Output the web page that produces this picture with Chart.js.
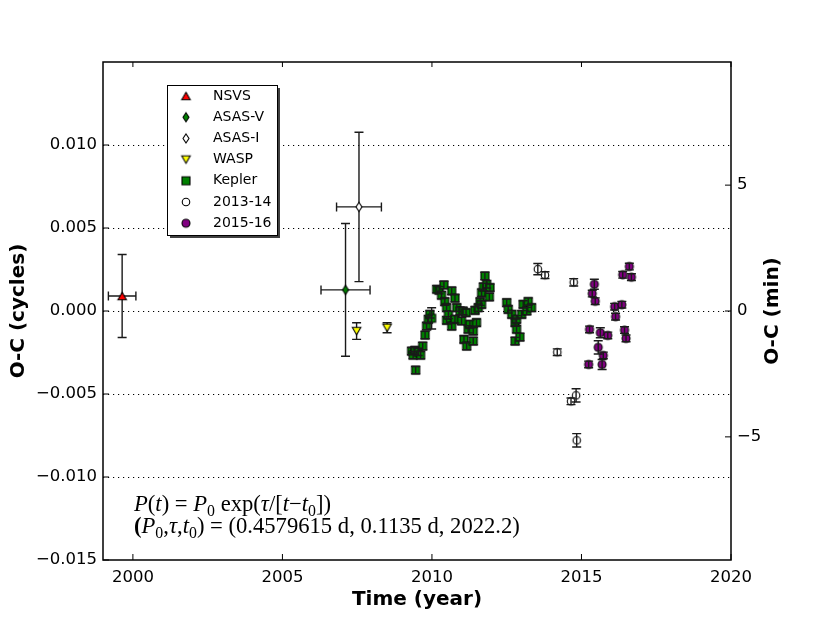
<!DOCTYPE html>
<html>
<head>
<meta charset="utf-8">
<script src="https://cdn.jsdelivr.net/npm/chart.js@4.4.0/dist/chart.umd.min.js"></script>
<style>
  html, body { margin: 0; padding: 0; background: #fff; }
  #wrap { width: 830px; height: 623px; position: relative; }
</style>
</head>
<body>
<div id="wrap"><canvas id="chart"></canvas></div>
<script>
// period P0 = 0.4579615 d, right axis shows O-C in minutes
const P0_MIN = 0.4579615 * 1440;

const xTicks = [2000, 2005, 2010, 2015, 2020];
const yTicks = [-0.015, -0.010, -0.005, 0.000, 0.005, 0.010];
const y2Ticks = [-5, 0, 5];

const nsvsYear = [1999.64];
const nsvsOC = [0.0009];
const nsvsErr = [0.0025];
const nsvsXErr = [0.46];

const asasVYear = [2007.11];
const asasVOC = [0.00127];
const asasVErr = [0.0040];
const asasVXErr = [0.82];

const asasIYear = [2007.56];
const asasIOC = [0.00627];
const asasIErr = [0.0045];
const asasIXErr = [0.75];

const waspYear = [2007.48, 2008.50];
const waspOC = [-0.00121, -0.00101];
const waspErr = [0.0005, 0.0003];

const keplerYear = [2009.32, 2009.37, 2009.43, 2009.455, 2009.54, 2009.62, 2009.69, 2009.77, 2009.82, 2009.88,
  2009.93, 2009.99, 2010.16, 2010.24, 2010.32, 2010.40, 2010.43, 2010.49, 2010.49, 2010.55,
  2010.66, 2010.66, 2010.77, 2010.77, 2010.83, 2010.94, 2010.99, 2011.04, 2011.07, 2011.14,
  2011.16, 2011.21, 2011.27, 2011.38, 2011.38, 2011.44, 2011.49, 2011.55, 2011.61, 2011.66,
  2011.66, 2011.72, 2011.77, 2011.83, 2011.92, 2011.94, 2012.50, 2012.55, 2012.67, 2012.78,
  2012.78, 2012.83, 2012.83, 2012.94, 2013.00, 2013.05, 2013.17, 2013.22, 2013.33];
const keplerOC = [-0.00242, -0.00266, -0.00237, -0.00356, -0.00246, -0.00266, -0.00211, -0.00145, -0.00091, -0.00050,
  -0.00020, -0.00044, 0.00131, 0.00125, 0.00095, 0.00157, 0.00056, 0.00020, -0.00056, -0.00024,
  0.00121, -0.00091, 0.00077, -0.00050, 0.00020, 0.00000, -0.00060, 0.00000, -0.00171, -0.00010,
  -0.00211, -0.00110, -0.00080, -0.00121, -0.00181, 0.00004, -0.00070, 0.00020, 0.00056, 0.00110,
  0.00040, 0.00145, 0.00211, 0.00161, 0.00085, 0.00141, 0.00050, 0.00010, -0.00020, -0.00070,
  -0.00181, -0.00110, -0.00050, -0.00157, -0.00020, 0.00040, 0.00000, 0.00057, 0.00020];
const keplerErr = keplerYear.map((_, i) => i === 11 ? 0.00064 : 0.00022);

const year1314 = [2013.54, 2013.78, 2014.19, 2014.65, 2014.74, 2014.82, 2014.84];
const oc1314 = [0.00252, 0.00216, -0.00248, -0.00544, 0.00173, -0.00508, -0.00779];
const err1314 = [0.00034, 0.0002, 0.0002, 0.0002, 0.00022, 0.0004, 0.0004];

const year1516 = [2015.24, 2015.27, 2015.36, 2015.43, 2015.46, 2015.56, 2015.63, 2015.69, 2015.73, 2015.88,
  2016.11, 2016.14, 2016.35, 2016.38, 2016.44, 2016.49, 2016.60, 2016.67];
const oc1516 = [-0.00322, -0.00111, 0.00105, 0.00161, 0.00059, -0.00219, -0.00131, -0.00322, -0.00268, -0.00147,
  0.00026, -0.00034, 0.00038, 0.00218, -0.00115, -0.00165, 0.00268, 0.00204];
const err1516 = [0.0002, 0.0002, 0.0002, 0.0003, 0.0002, 0.0004, 0.0003, 0.0003, 0.0002, 0.0002,
  0.0002, 0.0002, 0.0002, 0.0002, 0.0002, 0.0002, 0.0002, 0.0002];

function makeMarker(shape, fill, w, h) {
  const pad = 2;
  const c = document.createElement('canvas');
  c.width = Math.ceil(w + pad * 2);
  c.height = Math.ceil(h + pad * 2);
  const g = c.getContext('2d');
  const cx = c.width / 2, cy = c.height / 2;
  g.beginPath();
  if (shape === 'o') g.arc(cx, cy, w / 2, 0, Math.PI * 2);
  else if (shape === 's') g.rect(cx - w / 2, cy - h / 2, w, h);
  else if (shape === '^') { g.moveTo(cx, cy - h / 2); g.lineTo(cx + w / 2, cy + h / 2); g.lineTo(cx - w / 2, cy + h / 2); g.closePath(); }
  else if (shape === 'v') { g.moveTo(cx, cy + h / 2); g.lineTo(cx + w / 2, cy - h / 2); g.lineTo(cx - w / 2, cy - h / 2); g.closePath(); }
  else if (shape === 'd') { g.moveTo(cx, cy - h / 2); g.lineTo(cx + w / 2, cy); g.lineTo(cx, cy + h / 2); g.lineTo(cx - w / 2, cy); g.closePath(); }
  g.fillStyle = fill;
  g.fill();
  g.lineWidth = 1.1;
  g.strokeStyle = '#000';
  g.stroke();
  return c;
}

// "over": error bars drawn on top of the markers (the small-error series)
const series = [
  { label: 'NSVS', x: nsvsYear, y: nsvsOC, yerr: nsvsErr, xerr: nsvsXErr, over: false, marker: makeMarker('^', '#ff0000', 8.5, 7.5) },
  { label: 'ASAS-V', x: asasVYear, y: asasVOC, yerr: asasVErr, xerr: asasVXErr, over: false, marker: makeMarker('d', '#008000', 6, 9) },
  { label: 'ASAS-I', x: asasIYear, y: asasIOC, yerr: asasIErr, xerr: asasIXErr, over: false, marker: makeMarker('d', '#ffffff', 6, 9) },
  { label: 'WASP', x: waspYear, y: waspOC, yerr: waspErr, over: false, marker: makeMarker('v', '#ffff00', 8.5, 7.5) },
  { label: 'Kepler', x: keplerYear, y: keplerOC, yerr: keplerErr, over: true, marker: makeMarker('s', '#008000', 8, 8) },
  { label: '2013-14', x: year1314, y: oc1314, yerr: err1314, over: true, marker: makeMarker('o', '#ffffff', 7.5, 7.5) },
  { label: '2015-16', x: year1516, y: oc1516, yerr: err1516, over: true, marker: makeMarker('o', '#800080', 8, 8) }
];

const fmt = v => (v < -1e-9 ? '\u2212' : '') + Math.abs(v).toFixed(3);
const fmtInt = v => (v < 0 ? '\u2212' : '') + Math.abs(v);

function drawErrorBars(chart, over) {
  const { ctx, chartArea: a, scales } = chart;
  ctx.save();
  ctx.beginPath();
  ctx.rect(a.left, a.top, a.right - a.left, a.bottom - a.top);
  ctx.clip();
  ctx.strokeStyle = '#1a1a1a';
  ctx.lineWidth = 1.4;
  const cap = 4.5;
  series.filter(s => s.over === over).forEach(s => {
    s.x.forEach((xv, i) => {
      const px = scales.x.getPixelForValue(xv);
      const py = scales.y.getPixelForValue(s.y[i]);
      ctx.beginPath();
      if (s.yerr) {
        const t = scales.y.getPixelForValue(s.y[i] + s.yerr[i]);
        const b = scales.y.getPixelForValue(s.y[i] - s.yerr[i]);
        ctx.moveTo(px, t); ctx.lineTo(px, b);
        ctx.moveTo(px - cap, t); ctx.lineTo(px + cap, t);
        ctx.moveTo(px - cap, b); ctx.lineTo(px + cap, b);
      }
      if (s.xerr) {
        const l = scales.x.getPixelForValue(xv - s.xerr[i]);
        const r = scales.x.getPixelForValue(xv + s.xerr[i]);
        ctx.moveTo(l, py); ctx.lineTo(r, py);
        ctx.moveTo(l, py - cap); ctx.lineTo(l, py + cap);
        ctx.moveTo(r, py - cap); ctx.lineTo(r, py + cap);
      }
      ctx.stroke();
    });
  });
  ctx.restore();
}

const framePlugin = {
  id: 'frame',
  beforeDatasetsDraw(chart) {
    const { ctx, chartArea: a, scales } = chart;
    ctx.save();
    // dotted horizontal grid
    ctx.strokeStyle = '#000';
    ctx.lineWidth = 1;
    ctx.setLineDash([1.2, 3.8]);
    yTicks.forEach(v => {
      if (v <= -0.015) return;
      const py = Math.round(scales.y.getPixelForValue(v)) + 0.5;
      ctx.beginPath(); ctx.moveTo(a.left, py); ctx.lineTo(a.right, py); ctx.stroke();
    });
    ctx.restore();
    drawErrorBars(chart, false);
  },
  afterDatasetsDraw(chart) {
    const { ctx, chartArea: a, scales } = chart;
    drawErrorBars(chart, true);

    ctx.save();
    ctx.strokeStyle = '#000';
    ctx.lineWidth = 1;
    ctx.beginPath();
    xTicks.forEach(v => {
      const px = scales.x.getPixelForValue(v);
      ctx.moveTo(px, a.bottom); ctx.lineTo(px, a.bottom - 6);
      ctx.moveTo(px, a.top); ctx.lineTo(px, a.top + 5);
    });
    yTicks.forEach(v => {
      const py = scales.y.getPixelForValue(v);
      ctx.moveTo(a.left, py); ctx.lineTo(a.left + 6, py);
    });
    y2Ticks.forEach(v => {
      const py = scales.y2.getPixelForValue(v);
      ctx.moveTo(a.right, py); ctx.lineTo(a.right - 6, py);
    });
    ctx.stroke();
    ctx.lineWidth = 1.5;
    ctx.strokeRect(a.left, a.top, a.right - a.left, a.bottom - a.top);
    ctx.restore();
  },
  afterDraw(chart) {
    const { ctx, chartArea: a } = chart;
    ctx.save();
    ctx.fillStyle = '#000';
    ctx.font = 'bold 20px "DejaVu Sans"';
    ctx.textAlign = 'center';
    ctx.textBaseline = 'middle';
    ctx.fillText('Time (year)', (a.left + a.right) / 2, 600);
    ctx.save();
    ctx.translate(19, (a.top + a.bottom) / 2);
    ctx.rotate(-Math.PI / 2);
    ctx.fillText('O-C (cycles)', 0, 0);
    ctx.restore();
    ctx.save();
    ctx.translate(773, (a.top + a.bottom) / 2);
    ctx.rotate(-Math.PI / 2);
    ctx.fillText('O-C (min)', 0, 0);
    ctx.restore();

    // legend box
    const lx = 167, ly = 85, lw = 110, lh = 150;
    ctx.fillStyle = '#404040';
    ctx.fillRect(lx + 3, ly + 3, lw, lh);
    ctx.fillStyle = '#fff';
    ctx.fillRect(lx, ly, lw, lh);
    ctx.strokeStyle = '#000';
    ctx.lineWidth = 1;
    ctx.strokeRect(lx + 0.5, ly + 0.5, lw, lh);
    ctx.font = '14px "DejaVu Sans"';
    ctx.textAlign = 'left';
    ctx.fillStyle = '#000';
    series.forEach((s, i) => {
      const ry = 96 + i * 21.2;
      const m = s.marker;
      ctx.drawImage(m, 186 - m.width / 2, ry - m.height / 2);
      ctx.fillText(s.label, 213, ry);
    });

    // formula
    const line1 = [
      { t: 'P', it: 1 }, { t: '(' }, { t: 't', it: 1 }, { t: ')' }, { t: ' = ' },
      { t: 'P', it: 1 }, { t: '0', sub: 1 }, { t: ' exp(' }, { t: '\u03c4', it: 1 }, { t: '/[' },
      { t: 't', it: 1 }, { t: '\u2212' }, { t: 't', it: 1 }, { t: '0', sub: 1 }, { t: '])' }
    ];
    const line2 = [
      { t: '(', b: 1 }, { t: 'P', it: 1 }, { t: '0', sub: 1 }, { t: ',' }, { t: '\u03c4', it: 1 }, { t: ',' },
      { t: 't', it: 1 }, { t: '0', sub: 1 }, { t: ')' }, { t: ' = ' },
      { t: '(0.4579615 d, 0.1135 d, 2022.2)' }
    ];
    const rich = (segs, x, y, size, draw) => {
      let cx = x;
      segs.forEach(s => {
        const sz = s.sub ? size * 0.7 : size;
        ctx.font = (s.it ? 'italic ' : '') + (s.b ? 'bold ' : '') + sz + 'px "Liberation Serif"';
        if (draw) ctx.fillText(s.t, cx, y + (s.sub ? size * 0.22 : 0));
        cx += ctx.measureText(s.t).width;
      });
      return cx - x;
    };
    ctx.textBaseline = 'alphabetic';
    const size = 20 * 386 / rich(line2, 0, 0, 20, false);
    rich(line1, 134, 511, size, true);
    rich(line2, 134, 533, size, true);
    ctx.restore();
  }
};

Chart.defaults.font.family = '"DejaVu Sans"';
Chart.defaults.color = '#000';

const hiddenGrid = { display: false, drawTicks: false };

new Chart(document.getElementById('chart'), {
  type: 'scatter',
  data: {
    datasets: series.map(s => ({
      label: s.label,
      data: s.x.map((xv, i) => ({ x: xv, y: s.y[i] })),
      pointStyle: s.marker,
      showLine: false
    }))
  },
  options: {
    responsive: true,
    maintainAspectRatio: false,
    animation: false,
    events: [],
    layout: { padding: { top: 62, left: 0, right: 0, bottom: 0 } },
    plugins: { legend: { display: false }, tooltip: { enabled: false } },
    scales: {
      x: {
        type: 'linear', position: 'bottom', min: 1999, max: 2020,
        afterBuildTicks: s => { s.ticks = xTicks.map(v => ({ value: v })); },
        afterFit: s => { s.height = 63; },
        grid: hiddenGrid, border: { display: false },
        ticks: { padding: 8, font: { size: 16.5 }, maxRotation: 0, autoSkip: false, callback: v => String(v) }
      },
      y: {
        type: 'linear', position: 'left', min: -0.015, max: 0.015,
        afterBuildTicks: s => { s.ticks = yTicks.map(v => ({ value: v })); },
        afterFit: s => { s.width = 103; },
        grid: hiddenGrid, border: { display: false },
        ticks: { padding: 6, font: { size: 16.5 }, autoSkip: false, callback: v => fmt(v) }
      },
      y2: {
        type: 'linear', position: 'right', min: -0.015 * P0_MIN, max: 0.015 * P0_MIN,
        afterBuildTicks: s => { s.ticks = y2Ticks.map(v => ({ value: v })); },
        afterFit: s => { s.width = 99; },
        grid: hiddenGrid, border: { display: false },
        ticks: { padding: 6, font: { size: 16.5 }, autoSkip: false, callback: v => fmtInt(v) }
      }
    }
  },
  plugins: [framePlugin]
});
</script>
</body>
</html>
